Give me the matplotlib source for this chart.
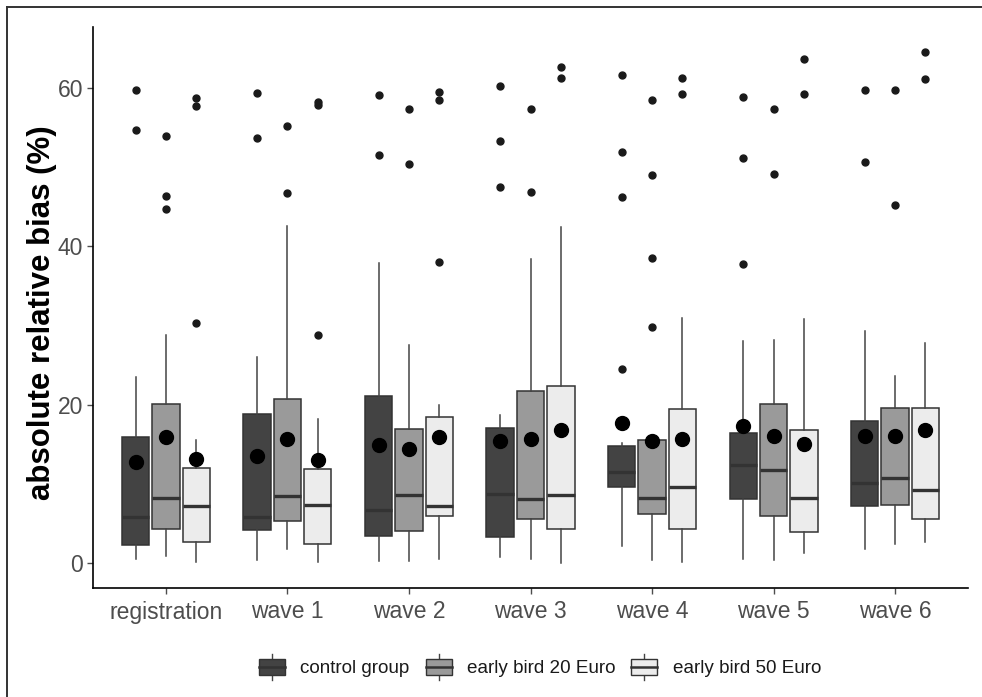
import matplotlib
matplotlib.use("Agg")
import matplotlib.pyplot as plt
from matplotlib.lines import Line2D
from matplotlib.patches import Rectangle, Patch
from matplotlib.legend_handler import HandlerBase

plt.rcParams['font.family'] = ['Liberation Sans', 'DejaVu Sans']

# Survey waves on the x axis
waves = ["registration", "wave 1", "wave 2", "wave 3", "wave 4", "wave 5", "wave 6"]
groups = ["control group", "early bird 20 Euro", "early bird 50 Euro"]

# Box statistics per group, one entry per wave:
# whisker low, Q1, median, Q3, whisker high, mean
control_whislo = [0.55, 0.4, 0.3, 0.8, 2.2, 0.5, 1.8]
control_q1     = [2.3, 4.2, 3.5, 3.3, 9.6, 8.1, 7.3]
control_med    = [5.9, 5.9, 6.8, 8.8, 11.6, 12.4, 10.2]
control_q3     = [16.0, 18.9, 21.1, 17.1, 14.8, 16.5, 18.0]
control_whishi = [23.5, 26.1, 37.9, 18.7, 15.2, 28.1, 29.3]
control_mean   = [12.8, 13.6, 15.0, 15.5, 17.7, 17.3, 16.1]
control_out    = [[59.8, 54.7], [59.4, 53.7], [59.1, 51.5], [60.2, 53.3, 47.5],
                  [61.7, 51.9, 46.2, 24.5], [58.9, 51.2, 37.8], [59.8, 50.7]]

eb20_whislo = [0.9, 1.8, 0.3, 0.5, 0.4, 0.4, 2.4]
eb20_q1     = [4.3, 5.3, 4.1, 5.6, 6.2, 6.0, 7.4]
eb20_med    = [8.3, 8.5, 8.7, 8.1, 8.2, 11.8, 10.8]
eb20_q3     = [20.1, 20.8, 17.0, 21.8, 15.6, 20.1, 19.6]
eb20_whishi = [28.8, 42.6, 27.6, 38.4, 15.6, 28.2, 23.6]
eb20_mean   = [15.9, 15.7, 14.5, 15.7, 15.5, 16.1, 16.1]
eb20_out    = [[53.9, 46.4, 44.7], [55.2, 46.7], [57.3, 50.4], [57.3, 46.9],
               [58.5, 49.0, 38.5, 29.8], [57.3, 49.1], [59.8, 45.2]]

eb50_whislo = [0.2, 0.2, 0.5, 0.1, 0.2, 1.3, 2.7]
eb50_q1     = [2.7, 2.4, 6.0, 4.3, 4.4, 4.0, 5.6]
eb50_med    = [7.3, 7.4, 7.3, 8.6, 9.6, 8.2, 9.3]
eb50_q3     = [12.0, 11.9, 18.5, 22.4, 19.5, 16.9, 19.6]
eb50_whishi = [15.6, 18.2, 20.0, 42.5, 31.0, 30.9, 27.8]
eb50_mean   = [13.2, 13.0, 15.9, 16.8, 15.7, 15.1, 16.8]
eb50_out    = [[58.8, 57.7, 30.4], [58.2, 57.8, 28.8], [59.5, 58.5, 38.0], [62.7, 61.3],
               [61.3, 59.2], [63.7, 59.2], [64.6, 61.2]]

y_ticks = [0, 20, 40, 60]

fills = ["#434343", "#9a9a9a", "#ececec"]
EDGE = "#333333"

series = [
    (control_whislo, control_q1, control_med, control_q3, control_whishi, control_mean, control_out),
    (eb20_whislo, eb20_q1, eb20_med, eb20_q3, eb20_whishi, eb20_mean, eb20_out),
    (eb50_whislo, eb50_q1, eb50_med, eb50_q3, eb50_whishi, eb50_mean, eb50_out),
]

fig = plt.figure(figsize=(9.82, 6.97), dpi=100)
ax = fig.add_axes([93 / 982, 1 - 588 / 697, (968 - 93) / 982, (588 - 27) / 697])

dodge = 0.25
box_w = dodge * 0.9
for gi, (wlo, q1, med, q3, whi, mean, out) in enumerate(series):
    stats = []
    for i in range(len(waves)):
        stats.append(dict(whislo=wlo[i], q1=q1[i], med=med[i], q3=q3[i],
                          whishi=whi[i], mean=mean[i], fliers=out[i]))
    positions = [i + 1 + (gi - 1) * dodge for i in range(len(waves))]
    ax.bxp(stats, positions=positions, widths=box_w, patch_artist=True,
           showmeans=True, showcaps=False, manage_ticks=False,
           boxprops=dict(facecolor=fills[gi], edgecolor=EDGE, linewidth=1.1),
           medianprops=dict(color=EDGE, linewidth=2.4, solid_capstyle='butt'),
           whiskerprops=dict(color="#444444", linewidth=1.1),
           flierprops=dict(marker='o', markerfacecolor="#1a1a1a", markeredgecolor="#1a1a1a",
                           markersize=5),
           meanprops=dict(marker='o', markerfacecolor="black", markeredgecolor="black",
                          markersize=10))

ax.set_xlim(0.4, 7.6)
ax.set_ylim(-3.1, 67.7)
ax.set_xticks(range(1, len(waves) + 1))
ax.set_xticklabels(waves)
ax.set_yticks(y_ticks)
ax.tick_params(axis='both', colors="#4d4d4d", labelsize=16.5, length=4, width=1)
ax.tick_params(axis='x', pad=5)
ax.tick_params(axis='y', pad=3)
for lab in ax.get_xticklabels() + ax.get_yticklabels():
    lab.set_color("#4d4d4d")
for side in ("top", "right"):
    ax.spines[side].set_visible(False)
for side in ("left", "bottom"):
    ax.spines[side].set_color("black")
    ax.spines[side].set_linewidth(1.2)

ax.set_ylabel("absolute relative bias (%)", fontsize=22.5, fontweight='bold')
ax.yaxis.set_label_coords((57 - 93) / 875, 0.49)


class BoxKey(HandlerBase):
    def create_artists(self, legend, orig_handle, xdescent, ydescent, width, height,
                       fontsize, trans):
        x0, y0 = -xdescent, -ydescent
        cx = x0 + width / 2
        whisk = Line2D([cx, cx], [y0 - 0.3 * height, y0 + 1.3 * height],
                       color="#444444", lw=1.0, transform=trans)
        box = Rectangle((x0, y0), width, height, facecolor=orig_handle.get_facecolor(),
                        edgecolor=EDGE, lw=1.0, transform=trans)
        med = Line2D([x0, x0 + width], [y0 + height / 2] * 2, color=EDGE, lw=1.8,
                     transform=trans)
        return [whisk, box, med]


handles = [Patch(facecolor=c) for c in fills]
fig.legend(handles, groups, loc='center', bbox_to_anchor=(0.55, 1 - 668 / 697), ncol=3,
           frameon=False, fontsize=13.6, handler_map={Patch: BoxKey()},
           handlelength=1.38, handleheight=0.95, handletextpad=0.8, columnspacing=0.85,
           labelcolor="#1a1a1a")

# Frame lines along the left and top of the figure
fig.add_artist(Line2D([7 / 982, 7 / 982], [0, 1 - 7 / 697], transform=fig.transFigure,
                      color="#333333", lw=1.4))
fig.add_artist(Line2D([7 / 982, 1], [1 - 7 / 697, 1 - 7 / 697], transform=fig.transFigure,
                      color="#333333", lw=1.4))

fig.savefig("out.png", dpi=100)
